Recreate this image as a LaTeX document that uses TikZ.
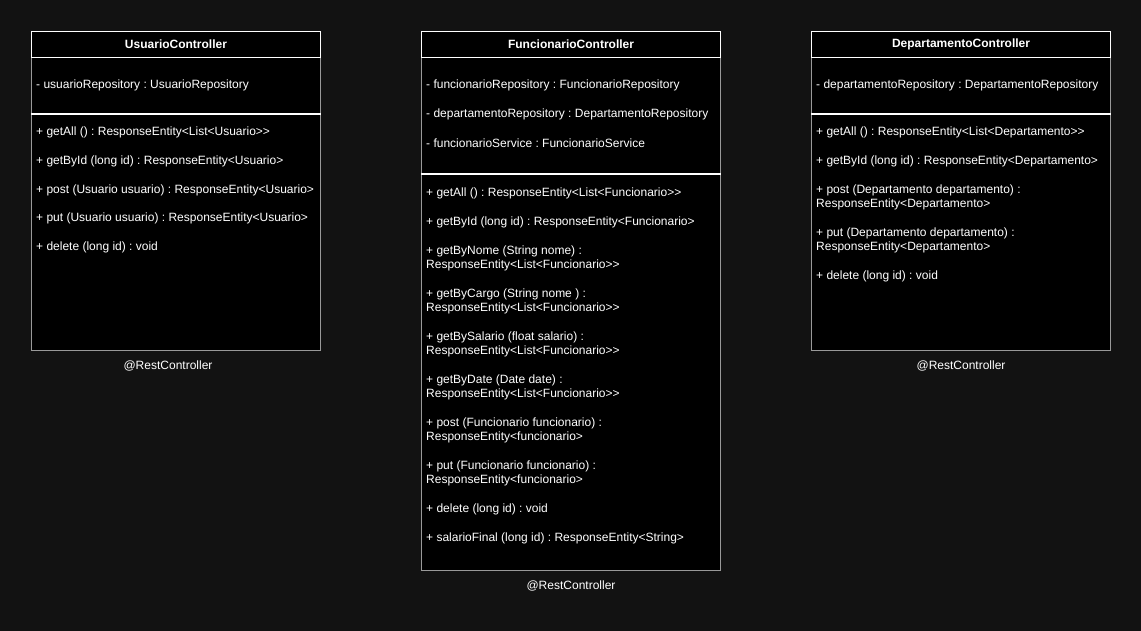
\documentclass[tikz,border=0pt]{standalone}
\usepackage{fontspec}
\setmainfont{Liberation Sans}
\usetikzlibrary{calc}
\frenchspacing
\definecolor{bg}{HTML}{121212}
\definecolor{bodyline}{HTML}{999999}
\tikzset{
  hdr/.style={draw=white, fill=black, line width=1pt, minimum height=26pt, inner sep=0pt, text=white, font=\fontsize{12}{14}\selectfont\bfseries\frenchspacing, anchor=north west},
  classbody/.style={draw=bodyline, fill=black, line width=1pt, inner sep=0pt, anchor=north west},
  itm/.style={anchor=west, text=white, font=\fontsize{12}{14}\selectfont\frenchspacing, inner sep=0pt, align=left, yshift=-1pt},
  sepline/.style={draw=white, line width=1.5pt},
  lbl/.style={text=white, font=\fontsize{12}{14}\selectfont\frenchspacing, inner sep=0pt, yshift=-1pt}
}
\begin{document}
\begin{tikzpicture}[x=1pt,y=-1pt]
\fill[bg] (0,0) rectangle (1141,631);
\useasboundingbox (0,0) rectangle (1141,631);

% ---------- UsuarioController
\node[classbody, minimum width=289pt, minimum height=293pt] (b1) at (31,57) {};
\node[hdr, minimum width=289pt] (h1) at (31,31) {UsuarioController};
\draw[sepline] ($(b1.north west)+(0,57)$) coordinate (s1a) -- ($(b1.north east)+(0,57)$) coordinate (s1b);
\node[itm] (u1) at (36,84) {- usuarioRepository : UsuarioRepository};
\node[itm] (u2) at (36,131) {+ getAll () : ResponseEntity<List<Usuario>{}>};
\node[itm] (u3) at (36,160) {+ getById (long id) : ResponseEntity<Usuario>};
\node[itm] (u4) at (36,189) {+ post (Usuario usuario) : ResponseEntity<Usuario>};
\node[itm] (u5) at (36,217) {+ put (Usuario usuario) : ResponseEntity<Usuario>};
\node[itm] (u6) at (36,246) {+ delete (long id) : void};
\node[lbl] (l1) at (168,365) {@RestController};

% ---------- FuncionarioController
\node[classbody, minimum width=299pt, minimum height=513pt] (b2) at (421,57) {};
\node[hdr, minimum width=299pt] (h2) at (421,31) {FuncionarioController};
\draw[sepline] ($(b2.north west)+(0,117)$) coordinate (s2a) -- ($(b2.north east)+(0,117)$) coordinate (s2b);
\node[itm] (f1) at (426,84) {- funcionarioRepository : FuncionarioRepository};
\node[itm] (f2) at (426,113) {- departamentoRepository : DepartamentoRepository};
\node[itm] (f3) at (426,142) {- funcionarioService : FuncionarioService};
\node[itm] (f4) at (426,192) {+ getAll () : ResponseEntity<List<Funcionario>{}>};
\node[itm] (f5) at (426,221) {+ getById (long id) : ResponseEntity<Funcionario>};
\node[itm] (f6) at (426,257) {+ getByNome (String nome) :\\ResponseEntity<List<Funcionario>{}>};
\node[itm] (f7) at (426,300) {+ getByCargo (String nome ) :\\ResponseEntity<List<Funcionario>{}>};
\node[itm] (f8) at (426,343) {+ getBySalario (float salario) :\\ResponseEntity<List<Funcionario>{}>};
\node[itm] (f9) at (426,386) {+ getByDate (Date date) :\\ResponseEntity<List<Funcionario>{}>};
\node[itm] (f10) at (426,429) {+ post (Funcionario funcionario) :\\ResponseEntity<funcionario>};
\node[itm] (f11) at (426,472) {+ put (Funcionario funcionario) :\\ResponseEntity<funcionario>};
\node[itm] (f12) at (426,508) {+ delete (long id) : void};
\node[itm] (f13) at (426,537) {+ salarioFinal (long id) : ResponseEntity<String>};
\node[lbl] (l2) at (571,585) {@RestController};

% ---------- DepartamentoController
\node[classbody, minimum width=299pt, minimum height=293pt] (b3) at (811,57) {};
\node[hdr, minimum width=299pt] (h3) at (811,31) {DepartamentoController};
\draw[sepline] ($(b3.north west)+(0,57)$) coordinate (s3a) -- ($(b3.north east)+(0,57)$) coordinate (s3b);
\node[itm] (d1) at (816,84) {- departamentoRepository : DepartamentoRepository};
\node[itm] (d2) at (816,131) {+ getAll () : ResponseEntity<List<Departamento>{}>};
\node[itm] (d3) at (816,160) {+ getById (long id) : ResponseEntity<Departamento>};
\node[itm] (d4) at (816,196) {+ post (Departamento departamento) :\\ResponseEntity<Departamento>};
\node[itm] (d5) at (816,239) {+ put (Departamento departamento) :\\ResponseEntity<Departamento>};
\node[itm] (d6) at (816,275) {+ delete (long id) : void};
\node[lbl] (l3) at (961,365) {@RestController};
\end{tikzpicture}
\end{document}
